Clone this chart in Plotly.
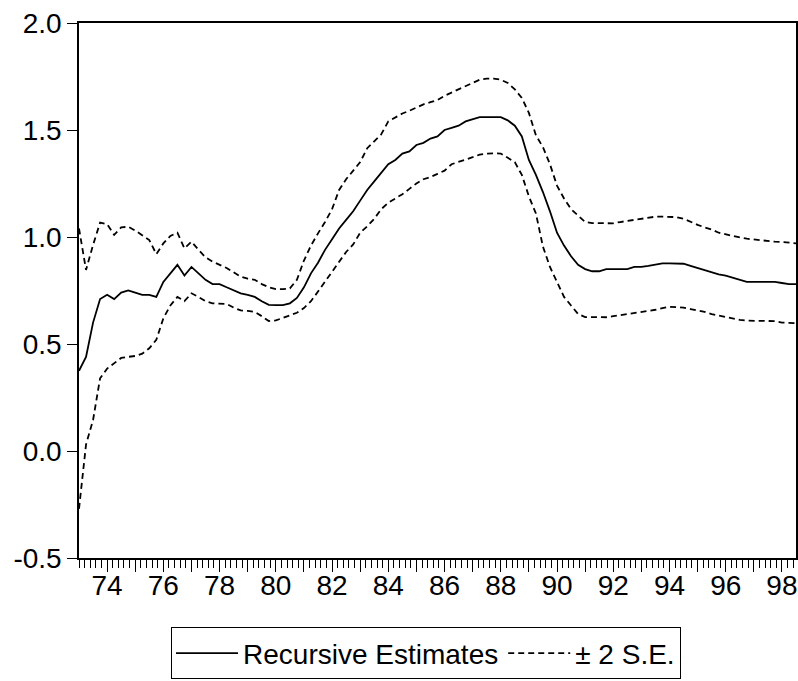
import plotly.graph_objects as go

# Quarterly observations, 1973Q1 .. 1998Q3 (x = year + (q-1)/4, in two-digit years)
start_year = 73.0
step = 0.25

recursive = [
    0.375, 0.44, 0.60, 0.71,          # 73
    0.73, 0.71, 0.74, 0.75,           # 74
    0.74, 0.73, 0.73, 0.72,           # 75
    0.79, 0.83, 0.87, 0.82,           # 76
    0.86, 0.83, 0.80, 0.78,           # 77
    0.78, 0.765, 0.75, 0.737,         # 78
    0.73, 0.72, 0.70, 0.683,          # 79
    0.682, 0.682, 0.69, 0.715,        # 80
    0.765, 0.83, 0.88, 0.94,          # 81
    0.99, 1.04, 1.08, 1.12,           # 82
    1.17, 1.22, 1.26, 1.30,           # 83
    1.34, 1.36, 1.39, 1.40,           # 84
    1.43, 1.44, 1.46, 1.47,           # 85
    1.50, 1.51, 1.52, 1.54,           # 86
    1.55, 1.56, 1.56, 1.56,           # 87
    1.56, 1.545, 1.52, 1.47,          # 88
    1.36, 1.29, 1.21, 1.12,           # 89
    1.02, 0.96, 0.91, 0.87,           # 90
    0.85, 0.84, 0.84, 0.85,           # 91
    0.85, 0.85, 0.85, 0.86,           # 92
    0.86, 0.865, 0.87, 0.877,         # 93
    0.877, 0.877, 0.875, 0.865,       # 94
    0.855, 0.845, 0.835, 0.825,       # 95
    0.82, 0.81, 0.80, 0.79,           # 96
    0.79, 0.79, 0.79, 0.79,           # 97
    0.785, 0.78, 0.78,                # 98
]

upper = [
    1.04, 0.846, 0.963, 1.067,        # 73
    1.06, 1.01, 1.045, 1.048,         # 74
    1.03, 1.01, 0.986, 0.92,          # 75
    0.97, 1.005, 1.02, 0.947,         # 76
    0.978, 0.94, 0.905, 0.885,        # 77
    0.87, 0.855, 0.835, 0.815,        # 78
    0.805, 0.80, 0.78, 0.765,         # 79
    0.757, 0.756, 0.76, 0.80,         # 80
    0.89, 0.96, 1.017, 1.07,          # 81
    1.13, 1.22, 1.27, 1.31,           # 82
    1.35, 1.415, 1.45, 1.48,          # 83
    1.54, 1.56, 1.577, 1.59,          # 84
    1.605, 1.62, 1.63, 1.64,          # 85
    1.66, 1.675, 1.69, 1.705,         # 86
    1.72, 1.735, 1.74, 1.74,          # 87
    1.735, 1.72, 1.69, 1.65,          # 88
    1.58, 1.475, 1.42, 1.34,          # 89
    1.24, 1.18, 1.13, 1.10,           # 90
    1.07, 1.065, 1.064, 1.064,        # 91
    1.064, 1.07, 1.075, 1.078,        # 92
    1.083, 1.09, 1.095, 1.095,        # 93
    1.095, 1.093, 1.085, 1.07,        # 94
    1.057, 1.045, 1.035, 1.02,        # 95
    1.012, 1.005, 0.998, 0.992,       # 96
    0.988, 0.985, 0.98, 0.978,        # 97
    0.977, 0.972, 0.97,               # 98
]

lower = [
    -0.27, 0.03, 0.145, 0.34,         # 73
    0.385, 0.41, 0.435, 0.44,         # 74
    0.444, 0.455, 0.48, 0.52,         # 75
    0.62, 0.68, 0.72, 0.70,           # 76
    0.737, 0.72, 0.70, 0.69,          # 77
    0.69, 0.687, 0.67, 0.657,         # 78
    0.655, 0.65, 0.63, 0.607,         # 79
    0.61, 0.622, 0.634, 0.646,        # 80
    0.668, 0.70, 0.745, 0.79,         # 81
    0.84, 0.885, 0.93, 0.965,         # 82
    1.02, 1.05, 1.085, 1.13,          # 83
    1.16, 1.18, 1.20, 1.225,          # 84
    1.25, 1.27, 1.28, 1.295,          # 85
    1.31, 1.34, 1.35, 1.362,          # 86
    1.373, 1.385, 1.39, 1.391,        # 87
    1.39, 1.37, 1.35, 1.29,           # 88
    1.19, 1.11, 0.955, 0.86,          # 89
    0.79, 0.72, 0.68, 0.64,           # 90
    0.626, 0.625, 0.625, 0.625,       # 91
    0.63, 0.635, 0.637, 0.645,        # 92
    0.65, 0.655, 0.66, 0.668,         # 93
    0.674, 0.672, 0.67, 0.663,        # 94
    0.657, 0.65, 0.64, 0.633,         # 95
    0.628, 0.62, 0.613, 0.609,        # 96
    0.609, 0.609, 0.609, 0.607,       # 97
    0.60, 0.597, 0.597,               # 98
]

x_years = [start_year + step * i for i in range(len(recursive))]

major_ticks = list(range(74, 99))
major_text = [str(y) if y % 2 == 0 else "" for y in major_ticks]
y_ticks = [-0.5, 0.0, 0.5, 1.0, 1.5, 2.0]
y_text = ["-0.5", "0.0", "0.5", "1.0", "1.5", "2.0"]

FONT = "Liberation Sans, Arial, sans-serif"

fig = go.Figure()
fig.add_trace(go.Scatter(
    x=x_years, y=recursive, mode="lines", name="Recursive Estimates",
    line=dict(color="black", width=1.8),
))
fig.add_trace(go.Scatter(
    x=x_years, y=upper, mode="lines", name="\u00b1 2 S.E.",
    line=dict(color="black", width=1.8, dash="6px,4px"),
    legendgroup="se",
))
fig.add_trace(go.Scatter(
    x=x_years, y=lower, mode="lines", name="\u00b1 2 S.E.",
    line=dict(color="black", width=1.8, dash="6px,4px"),
    legendgroup="se", showlegend=False,
))

fig.update_layout(
    width=798, height=681,
    margin=dict(l=79, r=2, t=23, b=123, autoexpand=False),
    paper_bgcolor="white", plot_bgcolor="white",
    font=dict(family=FONT, size=28, color="black"),
    showlegend=True,
    legend=dict(
        orientation="h",
        x=0.484, xanchor="center",
        y=-0.227, yanchor="bottom",
        bordercolor="black", borderwidth=1,
        font=dict(family=FONT, size=28, color="black"),
        itemwidth=62,
        tracegroupgap=0,
    ),
)

fig.update_xaxes(
    range=[73.0, 98.5], automargin=False,
    tickmode="array", tickvals=major_ticks, ticktext=major_text,
    ticks="outside", ticklen=12, tickwidth=1.3, tickcolor="black",
    ticklabelstandoff=-10,
    showline=True, linecolor="black", linewidth=1.5, mirror=True,
    showgrid=False, zeroline=False,
    tickfont=dict(family=FONT, size=28, color="black"),
    minor=dict(dtick=0.2, tick0=73.0, ticks="outside", ticklen=8,
               tickwidth=1.2, tickcolor="black", showgrid=False),
)
fig.update_yaxes(
    range=[-0.5, 2.0], automargin=False,
    tickmode="array", tickvals=y_ticks, ticktext=y_text,
    ticks="outside", ticklen=10, tickwidth=1.3, tickcolor="black",
    showline=True, linecolor="black", linewidth=1.5, mirror=True,
    showgrid=False, zeroline=False,
    tickfont=dict(family=FONT, size=28, color="black"),
)

fig.write_html(
    "out.html",
    config={"displayModeBar": False},
    post_script="document.body.style.margin='0px';document.body.style.padding='0px';",
)
